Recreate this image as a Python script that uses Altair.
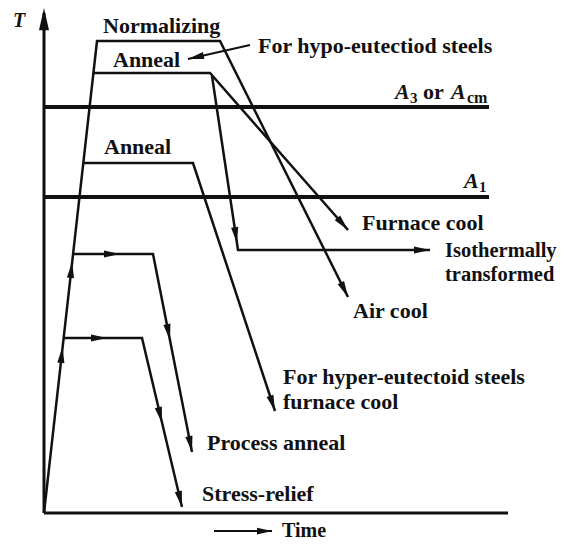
import numpy as np
import pandas as pd
import altair as alt

INK = "#111111"
FONT = "Liberation Serif"

# ---- polylines (time, temperature in arbitrary units) ----
path_names = ["T_axis", "t_axis", "A3", "A1", "normalizing", "anneal_hypo",
              "isothermal", "anneal_hyper", "process", "stress", "pointer", "time_arrow"]
path_x = [[0, 0], [0, 464], [0, 445], [0, 445],
          [0, 53, 176, 304], [49, 166, 304], [168, 194, 386],
          [39, 149, 231], [28, 109, 148], [19, 98, 138],
          [206, 144], [170, 228]]
path_y = [[0, 500], [0, 0], [406, 406], [316, 316],
          [0, 472, 472, 216], [440, 440, 283], [437, 263, 263],
          [350, 350, 102], [259, 259, 61], [175, 175, 6],
          [468, 454], [-18, -18]]
path_w = [3.0, 3.0, 3.8, 3.8, 2.5, 2.5, 2.5, 2.5, 2.5, 2.5, 2.0, 2.0]

# ---- arrowheads: tip and the point the segment comes from ----
arrow_tip_x = [0, 28.2, 18.6, 76, 63, 126, 148, 118, 138, 231, 193, 386, 304, 304, 144, 228]
arrow_tip_y = [505, 251, 166, 259, 175, 173, 61, 90, 6, 102, 270, 263, 283, 216, 454, -18]
arrow_from_x = [0, 0, 0, 28, 19, 109, 109, 98, 98, 149, 168, 194, 166, 176, 206, 170]
arrow_from_y = [0, 0, 0, 259, 175, 259, 259, 175, 175, 350, 437, 263, 440, 472, 468, -18]
arrow_size = [500, 256, 256, 256, 256, 256, 256, 256, 256, 256, 256, 256, 256, 256, 256, 225]

# ---- labels ----
label_text = ["Normalizing", "Anneal", "For hypo-eutectiod steels", "Anneal",
              "Furnace cool", "Isothermally", "transformed", "Air cool",
              "For hyper-eutectoid steels", "furnace cool", "Process anneal",
              "Stress-relief", "Time"]
label_x = [59, 69, 214, 60, 318, 401, 401, 309, 239, 239, 163, 158, 238]
label_y = [487, 453, 467, 366, 290, 262, 238, 202, 136, 111, 70, 19, -18]
label_size = [22, 22, 22, 22, 22, 20.5, 20.5, 22, 22, 22, 22, 22, 20]

# symbol labels drawn piece by piece (italic letters with subscripts)
sym_text = ["T", "A", "3", "or", "A", "cm", "A", "1"]
sym_x = [-31, 351, 366, 379, 407, 423, 420, 435]
sym_y = [486, 414, 410, 414, 414, 410, 325, 321]
sym_size = [20, 22, 15, 22, 22, 16, 22, 15]
sym_style = ["italic", "italic", "normal", "normal", "italic", "normal", "italic", "normal"]

rows = []
for n, xs_, ys_, w in zip(path_names, path_x, path_y, path_w):
    for i, (a, b) in enumerate(zip(xs_, ys_)):
        rows.append({"path": n, "order": i, "x": a, "y": b, "w": w})
lines_df = pd.DataFrame(rows)

tx, ty = np.array(arrow_tip_x, float), np.array(arrow_tip_y, float)
fx, fy = np.array(arrow_from_x, float), np.array(arrow_from_y, float)
ang = np.degrees(np.arctan2(tx - fx, ty - fy)) % 360
arrows_df = pd.DataFrame({"x": tx, "y": ty, "ang": ang, "s": arrow_size})

labels_df = pd.DataFrame({"t": label_text, "x": label_x, "y": label_y, "fs": label_size})
sym_df = pd.DataFrame({"t": sym_text, "x": sym_x, "y": sym_y,
                       "fs": sym_size, "st": sym_style})

xs = alt.Scale(domain=[-36, 513], nice=False, zero=False)
ys = alt.Scale(domain=[-29, 505], nice=False, zero=False)
X = lambda: alt.X("x:Q", scale=xs, axis=None)
Y = lambda: alt.Y("y:Q", scale=ys, axis=None)

lines = alt.Chart(lines_df).mark_line(color=INK, strokeCap="butt", strokeJoin="miter").encode(
    x=X(), y=Y(), detail="path:N", order="order:Q",
    strokeWidth=alt.StrokeWidth("w:Q", scale=None),
)

arrows = alt.Chart(arrows_df).mark_point(
    shape="M0,0L0.45,2L-0.45,2Z", filled=True, color=INK, opacity=1, strokeWidth=0
).encode(
    x=X(), y=Y(),
    angle=alt.Angle("ang:Q", scale=None),
    size=alt.Size("s:Q", scale=None),
)

labels = alt.Chart(labels_df).mark_text(
    align="left", baseline="middle", font=FONT, fontWeight="bold", color=INK
).encode(x=X(), y=Y(), text="t:N", size=alt.Size("fs:Q", scale=None))

sym_it = alt.Chart(sym_df[sym_df.st == "italic"]).mark_text(
    align="left", baseline="alphabetic", font=FONT, fontWeight="bold",
    fontStyle="italic", color=INK
).encode(x=X(), y=Y(), text="t:N", size=alt.Size("fs:Q", scale=None))
sym_rm = alt.Chart(sym_df[sym_df.st == "normal"]).mark_text(
    align="left", baseline="alphabetic", font=FONT, fontWeight="bold", color=INK
).encode(x=X(), y=Y(), text="t:N", size=alt.Size("fs:Q", scale=None))

chart = alt.layer(lines, arrows, labels, sym_it, sym_rm).properties(
    width=549, height=534, padding=0, autosize="none", background="white"
).configure_view(stroke=None)

chart.save("out.html", embed_options={"renderer": "svg", "actions": False})
